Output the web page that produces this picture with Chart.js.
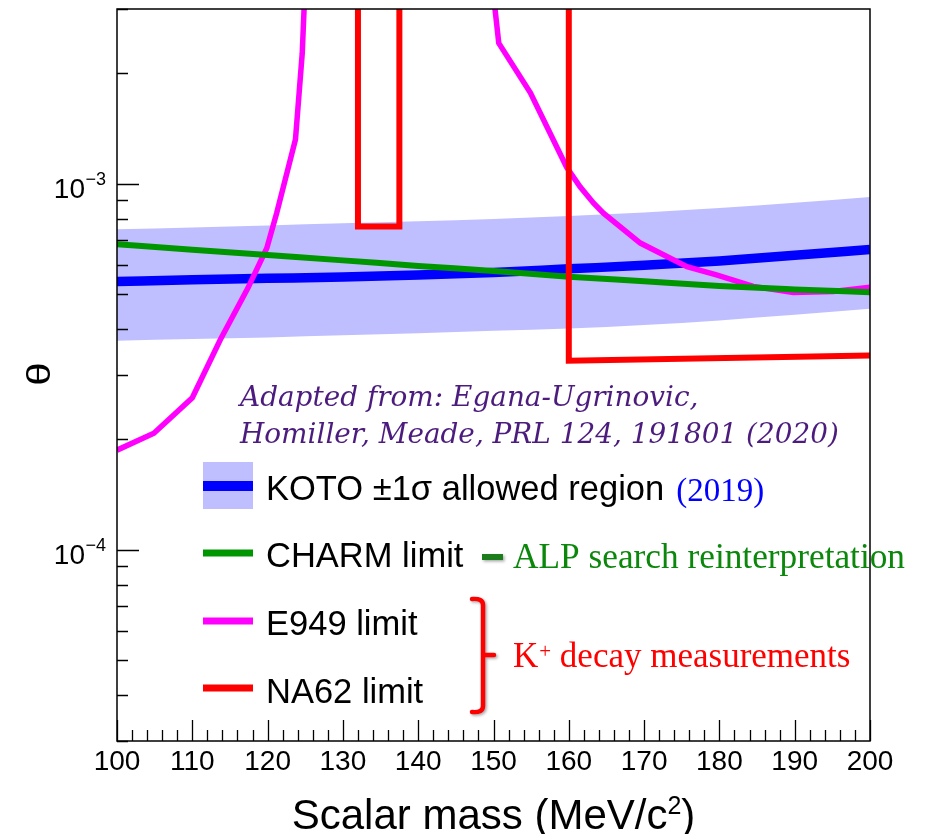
<!DOCTYPE html>
<html>
<head>
<meta charset="utf-8">
<script src="https://cdn.jsdelivr.net/npm/chart.js@4.4.0/dist/chart.umd.min.js"></script>
<style>
  html, body { margin: 0; padding: 0; background: #fff; }
</style>
</head>
<body>
<canvas id="chart" width="930" height="834"></canvas>
<script>
// scalar mass grid for the KOTO band and the CHARM curve (MeV/c^2)
const massGrid = [100, 110, 120, 130, 140, 150, 160, 170, 180, 190, 200];
const kotoCentral = [5.40e-4, 5.46e-4, 5.51e-4, 5.56e-4, 5.63e-4, 5.72e-4, 5.85e-4, 5.98e-4, 6.15e-4, 6.37e-4, 6.61e-4];
const kotoUpper = [7.50e-4, 7.59e-4, 7.69e-4, 7.79e-4, 7.89e-4, 8.01e-4, 8.16e-4, 8.34e-4, 8.58e-4, 8.86e-4, 9.20e-4];
const kotoLower = [3.72e-4, 3.76e-4, 3.80e-4, 3.85e-4, 3.90e-4, 3.96e-4, 4.02e-4, 4.11e-4, 4.23e-4, 4.38e-4, 4.55e-4];
const charmLimit = [6.83e-4, 6.60e-4, 6.38e-4, 6.17e-4, 5.96e-4, 5.77e-4, 5.57e-4, 5.41e-4, 5.25e-4, 5.14e-4, 5.05e-4];

// E949: two branches, both leave the top of the plot (null = break)
const e949Mass = [100, 104.9, 110.0, 113.7, 117.4, 119.9, 121.2, 123.7, 124.6, 124.9, 137,
                  150.05, 150.7, 154.9, 158.0, 159.7, 161.5, 163.3, 164.6, 169.5, 175.7, 179.6, 184.5, 189.8, 195.1, 200];
const e949Theta = [1.87e-4, 2.08e-4, 2.60e-4, 3.74e-4, 5.19e-4, 6.67e-4, 8.30e-4, 1.32e-3, 2.27e-3, 3.2e-3, null,
                   3.2e-3, 2.42e-3, 1.77e-3, 1.31e-3, 1.11e-3, 9.8e-4, 8.84e-4, 8.30e-4, 6.88e-4, 5.93e-4, 5.63e-4, 5.24e-4, 5.04e-4, 5.07e-4, 5.21e-4];

// NA62: excluded window around the pi0 mass, then the limit above 160
const na62Mass = [132.0, 132.0, 137.5, 137.5, 148, 160.0, 160.0, 200];
const na62Theta = [3.2e-3, 7.63e-4, 7.63e-4, 3.2e-3, null, 3.2e-3, 3.28e-4, 3.39e-4];

const xTickLabels = [100, 110, 120, 130, 140, 150, 160, 170, 180, 190, 200];
const yLabelPowers = [-3, -4];

const SANS = '"Liberation Sans", Arial, Helvetica, sans-serif';
const SERIF = '"Liberation Serif", "Times New Roman", serif';
const SERIF_WIDE = '"DejaVu Serif", Georgia, serif';

const BAND = '#bfbfff';
const BLUE = '#0000ff';
const GREEN = '#009600';
const MAGENTA = '#ff00ff';
const RED = '#ff0000';

const pts = (xs, ys) => xs.map((x, i) => ({ x: x, y: ys[i] }));

function drawBracket(ctx) {
  ctx.save();
  ctx.shadowColor = 'rgba(0,0,0,0.35)';
  ctx.shadowBlur = 3;
  ctx.shadowOffsetX = 1.5;
  ctx.shadowOffsetY = 1.5;
  ctx.strokeStyle = RED;
  ctx.lineWidth = 4.5;
  ctx.lineCap = 'round';
  ctx.lineJoin = 'round';
  ctx.beginPath();
  ctx.moveTo(472, 599);
  ctx.quadraticCurveTo(483, 598, 483, 605);
  ctx.lineTo(483, 706);
  ctx.quadraticCurveTo(483, 713, 472, 712);
  ctx.moveTo(483, 655);
  ctx.lineTo(494, 655);
  ctx.stroke();
  ctx.restore();
}

function drawLegend(ctx, chart) {
  const ds = chart.data.datasets;
  ctx.save();
  // KOTO band + central line
  ctx.fillStyle = ds[4].backgroundColor;
  ctx.fillRect(203, 462, 50, 47);
  ctx.fillStyle = ds[3].borderColor;
  ctx.fillRect(203, 481, 50, 10);

  const rows = [
    { i: 2, y: 553, text: 'CHARM limit', base: 567 },
    { i: 1, y: 621, text: 'E949 limit', base: 635 },
    { i: 0, y: 688, text: 'NA62 limit', base: 703 }
  ];
  ctx.lineCap = 'butt';
  rows.forEach(r => {
    ctx.strokeStyle = ds[r.i].borderColor;
    ctx.lineWidth = 7;
    ctx.beginPath();
    ctx.moveTo(203, r.y);
    ctx.lineTo(253, r.y);
    ctx.stroke();
  });

  ctx.fillStyle = '#000';
  ctx.textAlign = 'left';
  ctx.textBaseline = 'alphabetic';
  ctx.font = '34.5px ' + SANS;
  const kotoText = 'KOTO \u00b11\u03c3 allowed region';
  ctx.fillText(kotoText, 266, 500);
  const kotoEnd = 266 + ctx.measureText(kotoText).width;
  rows.forEach(r => ctx.fillText(r.text, 266, r.base));

  ctx.fillStyle = BLUE;
  ctx.font = '33px ' + SERIF;
  ctx.fillText('(2019)', kotoEnd + 12, 501);

  // ALP note
  ctx.save();
  ctx.shadowColor = 'rgba(0,0,0,0.35)';
  ctx.shadowBlur = 3;
  ctx.shadowOffsetX = 1.5;
  ctx.shadowOffsetY = 1.5;
  ctx.strokeStyle = '#1b7d1b';
  ctx.lineWidth = 6;
  ctx.beginPath();
  ctx.moveTo(482, 557);
  ctx.lineTo(503, 557);
  ctx.stroke();
  ctx.restore();
  ctx.fillStyle = '#0b870b';
  ctx.font = '35.3px ' + SERIF;
  ctx.fillText('ALP search reinterpretation', 513, 568);

  // K+ note
  drawBracket(ctx);
  ctx.fillStyle = RED;
  ctx.font = '35px ' + SERIF;
  ctx.fillText('K', 513, 667);
  let x = 513 + ctx.measureText('K').width + 1;
  ctx.font = '21px ' + SERIF;
  ctx.fillText('+', x, 658);
  x += ctx.measureText('+').width;
  ctx.font = '35px ' + SERIF;
  ctx.fillText(' decay measurements', x, 667);

  // citation
  const l1 = 'Adapted from: Egana-Ugrinovic,';
  const l2 = 'Homiller, Meade, PRL 124, 191801 (2020)';
  ctx.font = 'italic 100px ' + SERIF_WIDE;
  const size = 100 * 598 / ctx.measureText(l2).width;
  ctx.font = 'italic ' + size.toFixed(1) + 'px ' + SERIF_WIDE;
  ctx.fillStyle = '#4b1c7d';
  ctx.fillText(l1, 240, 406);
  ctx.fillText(l2, 240, 443);
  ctx.restore();
}

const frameAndLabels = {
  id: 'frameAndLabels',
  afterDraw(chart) {
    const ctx = chart.ctx;
    const area = chart.chartArea;
    const xs = chart.scales.x;
    const ys = chart.scales.y;

    drawLegend(ctx, chart);

    ctx.save();
    ctx.strokeStyle = '#000';
    ctx.lineWidth = 1.3;
    ctx.beginPath();
    // x ticks pointing into the plot, minor every 2
    for (let v = xs.min; v <= xs.max + 1e-9; v += 2) {
      const px = Math.round(xs.getPixelForValue(v)) + 0.5;
      const len = Math.round(v) % 10 === 0 ? 21 : 11;
      ctx.moveTo(px, area.bottom);
      ctx.lineTo(px, area.bottom - len);
    }
    // log y ticks
    for (let p = -5; p <= -3; p++) {
      for (let k = 1; k <= 9; k++) {
        const v = k * Math.pow(10, p);
        if (v < ys.min * 0.999 || v > ys.max * 1.001) continue;
        const py = Math.round(ys.getPixelForValue(v)) + 0.5;
        const len = k === 1 ? 22 : 11;
        ctx.moveTo(area.left, py);
        ctx.lineTo(area.left + len, py);
      }
    }
    ctx.stroke();
    ctx.lineWidth = 1.5;
    ctx.strokeRect(area.left, area.top, area.right - area.left, area.bottom - area.top);

    // y labels 10^-3, 10^-4
    ctx.fillStyle = '#000';
    ctx.textBaseline = 'alphabetic';
    yLabelPowers.forEach(p => {
      const py = ys.getPixelForValue(Math.pow(10, p));
      ctx.textAlign = 'right';
      ctx.font = '28px ' + SANS;
      ctx.fillText('10', 85, py + 14.5);
      ctx.textAlign = 'left';
      ctx.font = '18px ' + SANS;
      ctx.fillText('\u2212' + (-p), 85.5, py + 1);
    });

    // y title, rotated and a little narrowed
    ctx.save();
    ctx.translate(41, 374);
    ctx.rotate(-Math.PI / 2);
    ctx.scale(1, 0.8);
    ctx.textAlign = 'center';
    ctx.textBaseline = 'middle';
    ctx.font = '42px ' + SANS;
    ctx.fillText('\u03b8', 0, 0);
    ctx.restore();

    // x title with superscript
    const a = 'Scalar mass (MeV/c', b = '2', c = ')';
    ctx.textAlign = 'left';
    ctx.font = '42px ' + SANS;
    const wa = ctx.measureText(a).width, wc = ctx.measureText(c).width;
    ctx.font = '25px ' + SANS;
    const wb = ctx.measureText(b).width;
    let x = (area.left + area.right) / 2 - (wa + wb + wc) / 2;
    ctx.font = '42px ' + SANS;
    ctx.fillText(a, x, 829);
    x += wa;
    ctx.font = '25px ' + SANS;
    ctx.fillText(b, x, 814);
    x += wb;
    ctx.font = '42px ' + SANS;
    ctx.fillText(c, x, 829);
    ctx.restore();
  }
};

new Chart(document.getElementById('chart').getContext('2d'), {
  type: 'line',
  data: {
    datasets: [
      { label: 'NA62 limit', data: pts(na62Mass, na62Theta), borderColor: RED, borderWidth: 6,
        borderJoinStyle: 'miter', spanGaps: false, tension: 0, clip: 0, order: 1 },
      { label: 'E949 limit', data: pts(e949Mass, e949Theta), borderColor: MAGENTA, borderWidth: 5.5,
        spanGaps: false, tension: 0, clip: 0, order: 3 },
      { label: 'CHARM limit', data: pts(massGrid, charmLimit), borderColor: GREEN, borderWidth: 6,
        cubicInterpolationMode: 'monotone', clip: 0, order: 2 },
      { label: 'KOTO central', data: pts(massGrid, kotoCentral), borderColor: BLUE, borderWidth: 9.5,
        cubicInterpolationMode: 'monotone', clip: 0, order: 4 },
      { label: 'KOTO +1 sigma', data: pts(massGrid, kotoUpper), borderWidth: 0, borderColor: BAND,
        backgroundColor: BAND, fill: '+1', cubicInterpolationMode: 'monotone', clip: 0, order: 5 },
      { label: 'KOTO -1 sigma', data: pts(massGrid, kotoLower), borderWidth: 0, borderColor: BAND,
        fill: false, cubicInterpolationMode: 'monotone', clip: 0, order: 6 }
    ]
  },
  options: {
    responsive: false,
    animation: false,
    devicePixelRatio: 1,
    layout: { padding: { top: 9, right: 60, bottom: 0, left: 0 } },
    elements: { point: { radius: 0, hoverRadius: 0 }, line: { borderCapStyle: 'butt' } },
    plugins: { legend: { display: false }, tooltip: { enabled: false } },
    events: [],
    scales: {
      x: {
        type: 'linear', min: 100, max: 200,
        afterFit: s => { s.height = 93; },
        afterBuildTicks: s => { s.ticks = xTickLabels.map(v => ({ value: v })); },
        grid: { display: false, drawTicks: false },
        border: { display: false },
        ticks: { autoSkip: false, maxRotation: 0, padding: 4, color: '#000',
                 font: { family: SANS, size: 28 } }
      },
      y: {
        type: 'logarithmic', min: 3e-5, max: 3e-3,
        afterFit: s => { s.width = 117; },
        grid: { display: false, drawTicks: false },
        border: { display: false },
        ticks: { display: false }
      }
    }
  },
  plugins: [frameAndLabels]
});
</script>
</body>
</html>
